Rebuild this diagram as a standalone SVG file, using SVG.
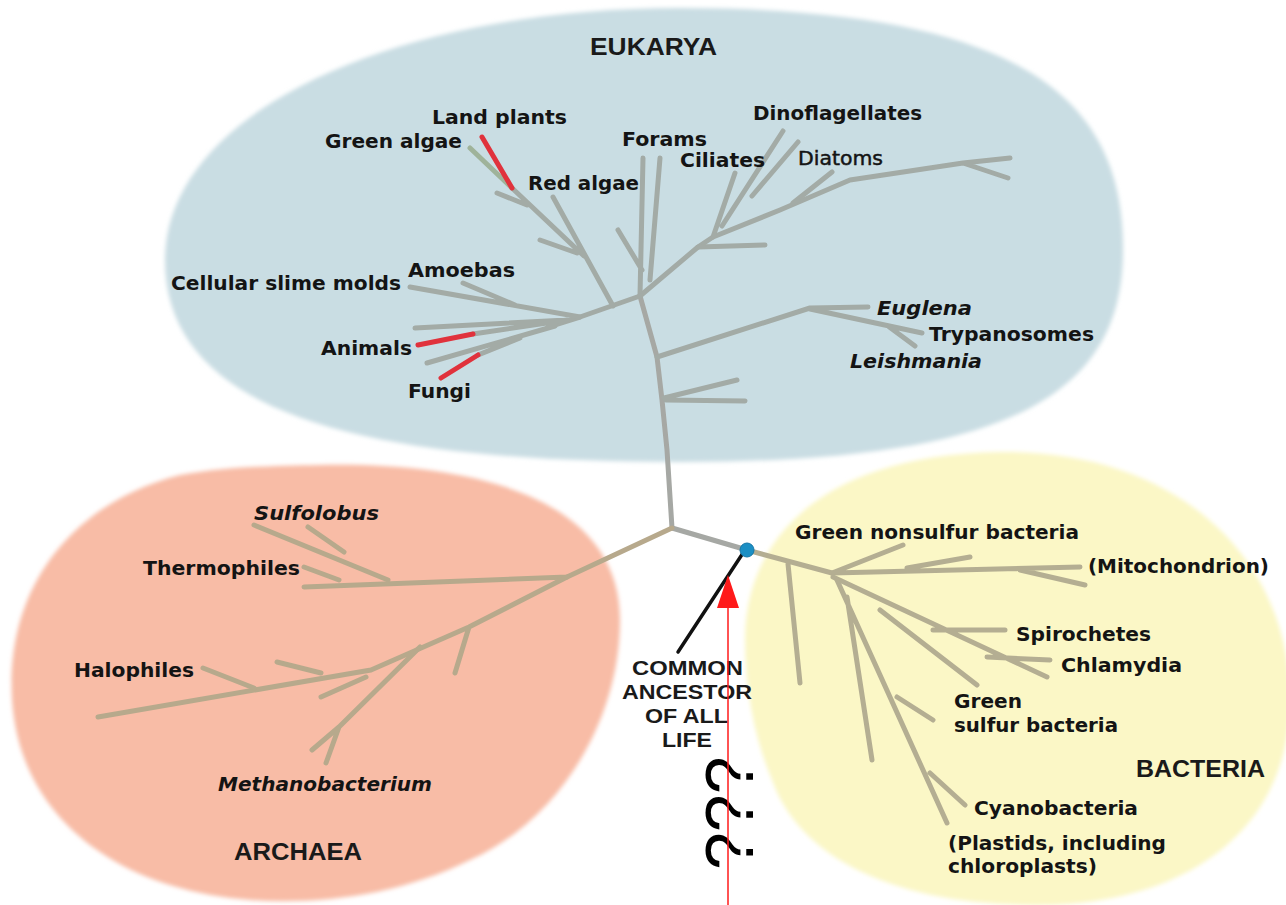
<svg xmlns="http://www.w3.org/2000/svg" width="1286" height="905" viewBox="0 0 1286 905">
<defs>
<filter id="soft" x="-5%" y="-5%" width="110%" height="110%"><feGaussianBlur stdDeviation="2"/></filter>
<style>
.lbl{font-family:"DejaVu Sans",sans-serif;font-weight:bold;font-size:20px;fill:#141414}
.it{font-style:italic}
.reg{font-weight:normal}
.dom{font-family:"Liberation Sans",Arial,sans-serif;font-weight:bold;font-size:24px;fill:#1a1a1a}
.anc{font-family:"Liberation Sans",Arial,sans-serif;font-weight:bold;font-size:21px;fill:#1a1a1a}
.br{fill:none;stroke-width:5;stroke-linecap:round;stroke-linejoin:round}
.eu{stroke:#a3aba6}
.ar{stroke:#b7a98c}
.ba{stroke:#b4ae92}
.tr{stroke:#a6a8a4}
.red{stroke:#e0323c}
.grn{stroke:#9fb39a}
</style>
</defs>
<rect width="1286" height="905" fill="#ffffff"/>

<g id="eukarya">
<path d="M165,260 C165,110 400,8 680,8 C1040,8 1123,110 1123,250 C1123,400 1000,462 680,462 C380,462 165,420 165,260 Z" fill="#c9dde3" filter="url(#soft)"/>
<text class="dom" x="590" y="55" textLength="127" lengthAdjust="spacingAndGlyphs">EUKARYA</text>
</g>
<g id="archaea">
<path d="M320,465 C480,462 620,500 620,620 C620,720 560,820 470,860 C400,895 320,905 250,900 C120,890 20,820 12,700 C5,580 80,500 180,475 C230,466 280,466 320,465 Z" fill="#f8bca6" filter="url(#soft)"/>
<text class="dom" x="234" y="860" textLength="128" lengthAdjust="spacingAndGlyphs">ARCHAEA</text>
</g>
<g id="bacteria">
<path d="M745,640 C745,540 820,455 1000,452 C1180,450 1290,560 1290,700 C1290,820 1200,900 1050,905 C900,908 800,860 772,780 C755,740 745,690 745,640 Z" fill="#fbf7c6" filter="url(#soft)"/>
<text class="dom" x="1136" y="777" textLength="129" lengthAdjust="spacingAndGlyphs">BACTERIA</text>
</g>

<g id="connectors">
<g id="trunk">
<path class="br tr" d="M672,528 L667,450 L662,400 L657,357 L640,296"/>
<path class="br tr" d="M672,528 L747,550"/>
</g>
<g id="eukarya-tree">
<path class="br eu" d="M664,398 L737,380 M666,400 L745,401"/>
<path class="br eu" d="M657,357 L810,308 L868,307 M810,309 L922,333 M888,326 L915,346"/>
<path class="br eu" d="M640,296 L698,247 L713,237 L780,210 L850,180 L963,163 L1010,158 M963,163 L1008,178"/>
<path class="br eu" d="M698,247 L765,245 M713,237 L735,173 M722,226 L783,131 M752,196 L798,142 M793,203 L832,172"/>
<path class="br eu" d="M640,296 L643,158 M650,280 L660,158 M642,270 L618,230"/>
<path class="br eu" d="M640,296 L580,317 L548,327"/>
<path class="br eu" d="M613,306 L553,197 M584,256 L512,188 M527,205 L497,193 M577,253 L540,240"/>
<path class="br grn" d="M512,188 L470,148"/>
<path class="br red" d="M512,188 L482,137"/>
<path class="br eu" d="M580,317 L410,287 M515,305 L463,283"/>
<path class="br eu" d="M567,320 L415,328 M567,320 L473,334 M555,326 L427,363 M520,338 L478,355"/>
<path class="br red" d="M473,334 L418,345 M478,355 L441,378"/>
</g>
<g id="archaea-tree">
<path class="br ar" d="M672,528 L567,577 L304,587"/>
<path class="br ar" d="M388,580 L254,525 M344,552 L308,527 M339,580 L304,567"/>
<path class="br ar" d="M567,577 L469,627 L371,670 L98,717 M469,627 L455,673"/>
<path class="br ar" d="M254,688 L203,668 M321,673 L277,662 M321,697 L366,677"/>
<path class="br ar" d="M420,647 L339,727 L312,750 M339,727 L326,763"/>
</g>
<g id="bacteria-tree">
<path class="br ba" d="M747,550 L832,573 M788,564 L800,683"/>
<path class="br ba" d="M832,573 L903,545 M832,573 L1080,567 M907,568 L970,557 M1020,570 L1085,585"/>
<path class="br ba" d="M833,577 L1047,677 M933,630 L1005,630 M987,657 L1050,660 M880,610 L977,685"/>
<path class="br ba" d="M837,580 L947,823 M897,697 L933,720 M930,773 L965,805 M847,597 L872,760"/>
</g>
<g id="ancestor-pointer">
<line x1="743" y1="553" x2="678" y2="652" stroke="#111" stroke-width="3.5" stroke-linecap="round"/>
</g>
</g>

<g id="common-ancestor">
<circle cx="747" cy="550" r="7" fill="#1b8fc4" stroke="#1577a8" stroke-width="1"/>
<text class="anc" x="632" y="675" textLength="111" lengthAdjust="spacingAndGlyphs">COMMON</text>
<text class="anc" x="622" y="699" textLength="130" lengthAdjust="spacingAndGlyphs">ANCESTOR</text>
<text class="anc" x="645" y="723" textLength="83" lengthAdjust="spacingAndGlyphs">OF ALL</text>
<text class="anc" x="662" y="747" textLength="50" lengthAdjust="spacingAndGlyphs">LIFE</text>
</g>

<g id="labels-eukarya">
<g id="l-landplants"><text class="lbl" x="432" y="124" textLength="135" lengthAdjust="spacingAndGlyphs">Land plants</text></g>
<g id="l-greenalgae"><text class="lbl" x="325" y="148" textLength="137" lengthAdjust="spacingAndGlyphs">Green algae</text></g>
<g id="l-redalgae"><text class="lbl" x="528" y="190" textLength="111" lengthAdjust="spacingAndGlyphs">Red algae</text></g>
<g id="l-forams"><text class="lbl" x="622" y="146" textLength="85" lengthAdjust="spacingAndGlyphs">Forams</text></g>
<g id="l-ciliates"><text class="lbl" x="680" y="167" textLength="85" lengthAdjust="spacingAndGlyphs">Ciliates</text></g>
<g id="l-dino"><text class="lbl" x="753" y="120" textLength="169" lengthAdjust="spacingAndGlyphs">Dinoflagellates</text></g>
<g id="l-diatoms"><text class="lbl reg" x="798" y="165" textLength="85" lengthAdjust="spacingAndGlyphs" stroke="#141414" stroke-width="0.5">Diatoms</text></g>
<g id="l-amoebas"><text class="lbl" x="408" y="277" textLength="107" lengthAdjust="spacingAndGlyphs">Amoebas</text></g>
<g id="l-slime"><text class="lbl" x="171" y="290" textLength="230" lengthAdjust="spacingAndGlyphs">Cellular slime molds</text></g>
<g id="l-animals"><text class="lbl" x="321" y="355" textLength="91" lengthAdjust="spacingAndGlyphs">Animals</text></g>
<g id="l-fungi"><text class="lbl" x="408" y="398" textLength="63" lengthAdjust="spacingAndGlyphs">Fungi</text></g>
<g id="l-euglena"><text class="lbl it" x="877" y="315" textLength="95" lengthAdjust="spacingAndGlyphs">Euglena</text></g>
<g id="l-trypano"><text class="lbl" x="929" y="341" textLength="165" lengthAdjust="spacingAndGlyphs">Trypanosomes</text></g>
<g id="l-leish"><text class="lbl it" x="850" y="368" textLength="132" lengthAdjust="spacingAndGlyphs">Leishmania</text></g>
</g>

<g id="labels-archaea">
<g id="l-sulfolobus"><text class="lbl it" x="254" y="520" textLength="125" lengthAdjust="spacingAndGlyphs">Sulfolobus</text></g>
<g id="l-thermo"><text class="lbl" x="143" y="575" textLength="157" lengthAdjust="spacingAndGlyphs">Thermophiles</text></g>
<g id="l-halo"><text class="lbl" x="74" y="677" textLength="120" lengthAdjust="spacingAndGlyphs">Halophiles</text></g>
<g id="l-methano"><text class="lbl it" x="218" y="791" textLength="214" lengthAdjust="spacingAndGlyphs">Methanobacterium</text></g>
</g>

<g id="labels-bacteria">
<g id="l-gnsb"><text class="lbl" x="795" y="539" textLength="284" lengthAdjust="spacingAndGlyphs">Green nonsulfur bacteria</text></g>
<g id="l-mito"><text class="lbl" x="1088" y="573" textLength="181" lengthAdjust="spacingAndGlyphs">(Mitochondrion)</text></g>
<g id="l-spiro"><text class="lbl" x="1016" y="641" textLength="135" lengthAdjust="spacingAndGlyphs">Spirochetes</text></g>
<g id="l-chlam"><text class="lbl" x="1061" y="672" textLength="121" lengthAdjust="spacingAndGlyphs">Chlamydia</text></g>
<g id="l-gsb">
<text class="lbl" x="954" y="708" textLength="68" lengthAdjust="spacingAndGlyphs">Green</text>
<text class="lbl" x="954" y="732" textLength="164" lengthAdjust="spacingAndGlyphs">sulfur bacteria</text>
</g>
<g id="l-cyano"><text class="lbl" x="974" y="815" textLength="164" lengthAdjust="spacingAndGlyphs">Cyanobacteria</text></g>
<g id="l-plastids">
<text class="lbl" x="948" y="850" textLength="218" lengthAdjust="spacingAndGlyphs">(Plastids, including</text>
<text class="lbl" x="948" y="873" textLength="149" lengthAdjust="spacingAndGlyphs">chloroplasts)</text>
</g>
</g>

<g id="unknown-origin">
<text transform="translate(753,870) rotate(-90)" font-family="'Liberation Sans',Arial,sans-serif" font-size="68" fill="#000">???</text>
<line x1="728" y1="606" x2="728" y2="905" stroke="#ff1a1a" stroke-width="1.5"/>
<polygon points="728,575 717,608 739,608" fill="#ff1a1a"/>
</g>
</svg>
